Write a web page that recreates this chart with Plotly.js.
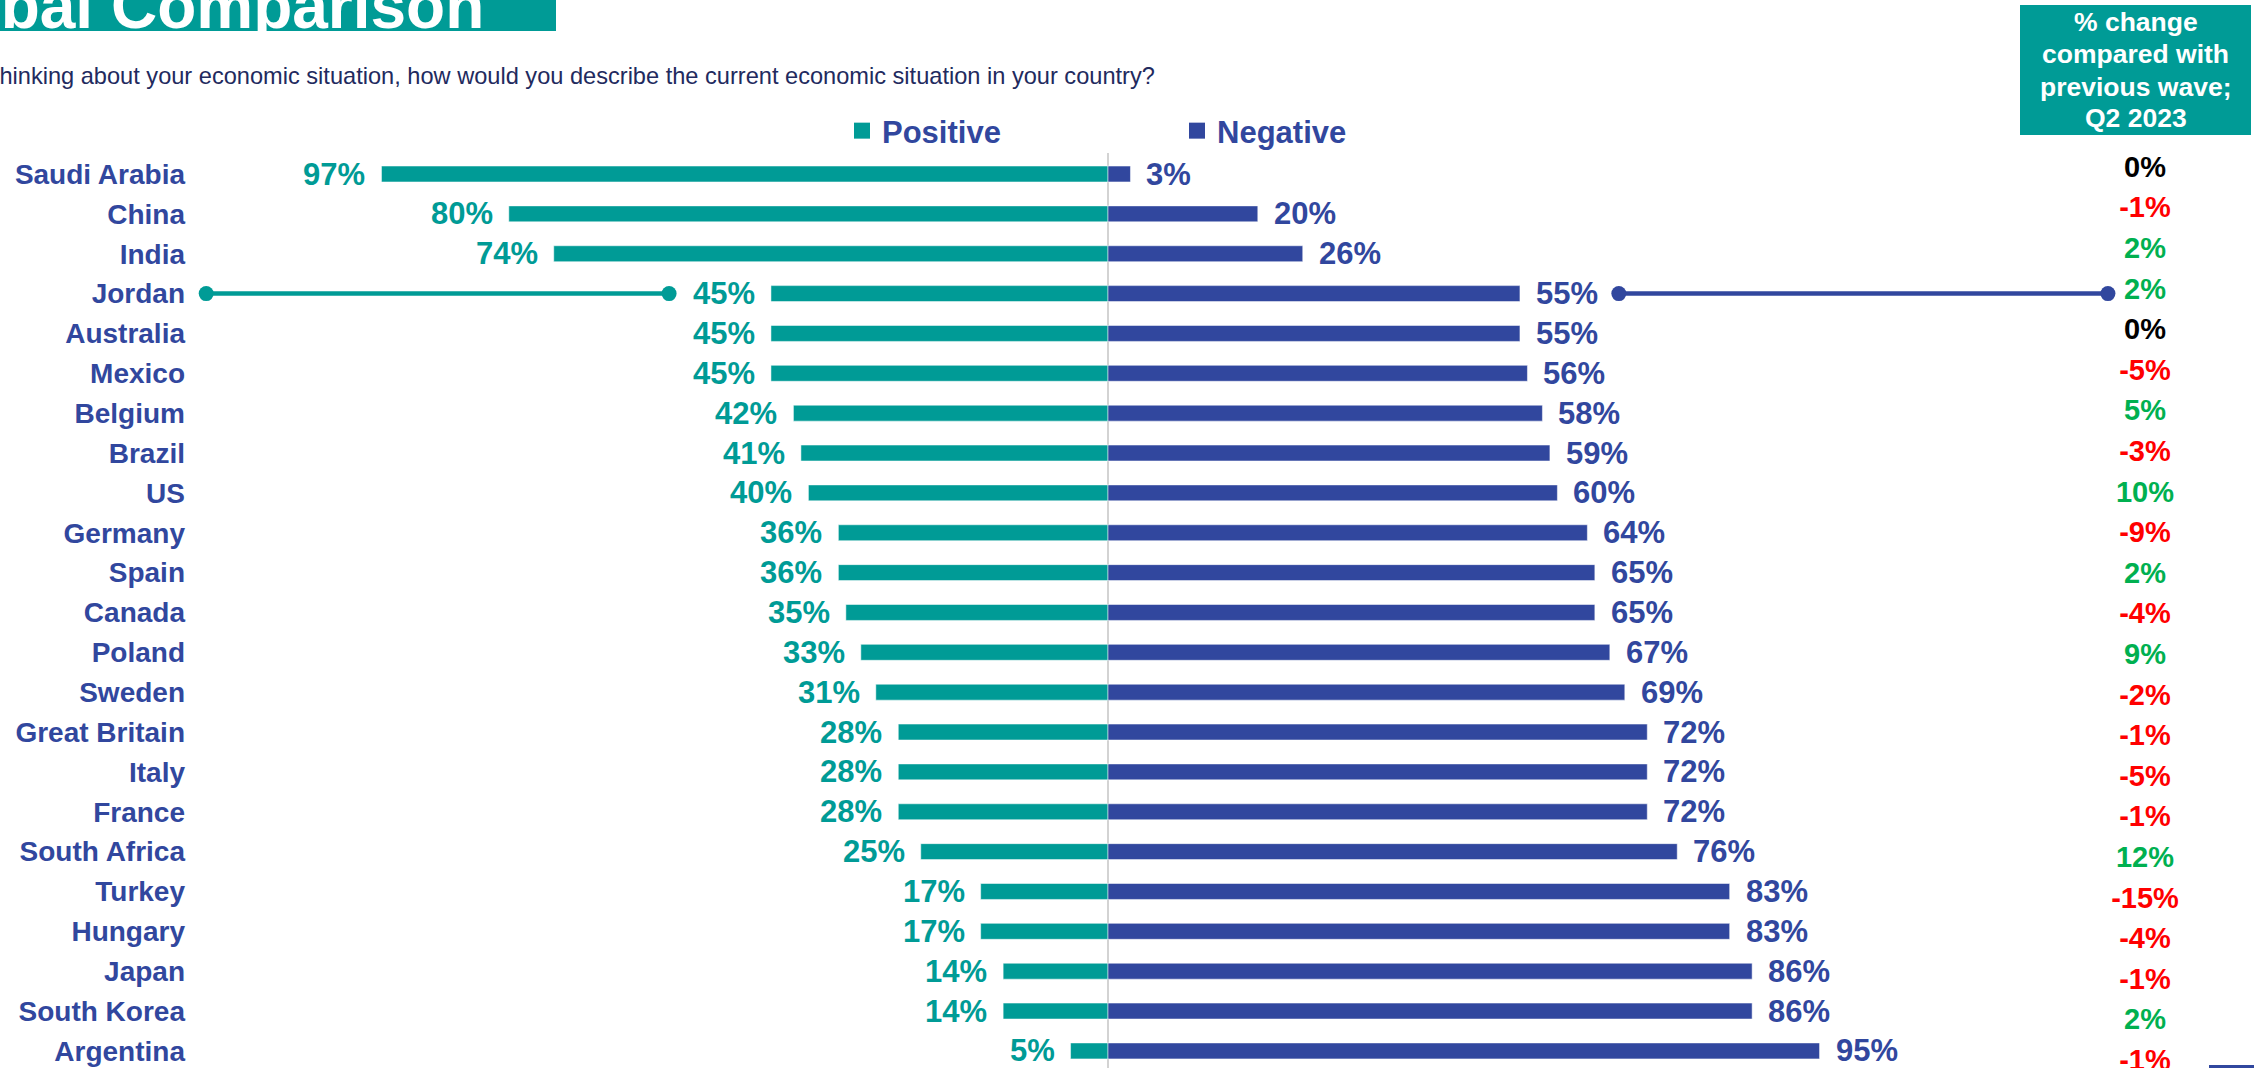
<!DOCTYPE html>
<html><head><meta charset="utf-8">
<script src="https://cdn.plot.ly/plotly-3.0.1.min.js"></script>
<style>html,body{margin:0;padding:0;background:#fff;overflow:hidden}#chart{width:2254px;height:1068px}</style>
</head><body><div id="chart"></div>
<script>
// ---------- DATA ----------
const countries = ["Saudi Arabia","China","India","Jordan","Australia","Mexico","Belgium","Brazil","US","Germany","Spain","Canada","Poland","Sweden","Great Britain","Italy","France","South Africa","Turkey","Hungary","Japan","South Korea","Argentina"];
const positive = [97,80,74,45,45,45,42,41,40,36,36,35,33,31,28,28,28,25,17,17,14,14,5];
const negative = [3,20,26,55,55,56,58,59,60,64,65,65,67,69,72,72,72,76,83,83,86,86,95];
const changeVsPrev = [0,-1,2,2,0,-5,5,-3,10,-9,2,-4,9,-2,-1,-5,-1,12,-15,-4,-1,2,-1];
const seriesNames = ["Positive","Negative"];
const highlightCountry = "Jordan";
const highlightPosLink = [-120.4,-58.6];
const highlightNegLink = [68.2,133.5];
const titleText = "Global Comparison";
const subtitleText = "Thinking about your economic situation, how would you describe the current economic situation in your country?";
const boxLines = ["% change","compared with","previous wave;","Q2 2023"];

// ---------- STYLE / LAYOUT ----------
const W = 2254, H = 1068, L = 190;
const ZERO = 1108, KX = 7.49;
const TEAL = "#009B96", NAVY = "#31479E", GREEN = "#00B050", RED = "#FF0000";
const FONT = "Liberation Sans, Arial, sans-serif";
const px = p => (p - L) / (W - L);
const py = p => 1 - p / H;
const xRange = [(L - ZERO) / KX, (W - ZERO) / KX];
const rowTop = 174, rowStep = 39.86;
const chgTop = 169.5, chgStep = 40.6;
const yRange = [(H - rowTop) / rowStep, -rowTop / rowStep];
const y2Range = [(H - chgTop) / chgStep, -chgTop / chgStep];
const changeX = (2145 - ZERO) / KX;

const traces = [
  // legend keys (square swatches)
  {type:"scatter", mode:"markers", name:seriesNames[0], x:[null], y:[null],
   marker:{symbol:"square", size:16, color:TEAL}, hoverinfo:"skip"},
  {type:"scatter", mode:"markers", name:seriesNames[1], x:[null], y:[null],
   marker:{symbol:"square", size:16, color:NAVY}, hoverinfo:"skip"},
  {type:"bar", orientation:"h", name:seriesNames[0], showlegend:false, y:countries, x:positive.map(v=>-v),
   marker:{color:TEAL, line:{color:"rgba(255,255,255,0.5)", width:1}}, hoverinfo:"skip"},
  {type:"bar", orientation:"h", name:seriesNames[1], showlegend:false, y:countries, x:negative,
   marker:{color:NAVY, line:{color:"rgba(255,255,255,0.5)", width:1}}, hoverinfo:"skip"},
  {type:"scatter", mode:"lines+markers", showlegend:false, cliponaxis:false,
   x:highlightPosLink, y:[highlightCountry, highlightCountry],
   line:{color:TEAL, width:4.5}, marker:{color:TEAL, size:15}, hoverinfo:"skip"},
  {type:"scatter", mode:"lines+markers", showlegend:false, cliponaxis:false,
   x:highlightNegLink, y:[highlightCountry, highlightCountry],
   line:{color:NAVY, width:4.5}, marker:{color:NAVY, size:15}, hoverinfo:"skip"},
  {type:"scatter", mode:"text", showlegend:false, cliponaxis:false, yaxis:"y2",
   x:countries.map(()=>changeX), y:countries,
   text:changeVsPrev.map(v=>v+"%"), textposition:"middle center",
   textfont:{family:FONT, size:29, weight:"bold", color:changeVsPrev.map(v=> v>0?GREEN:(v<0?RED:"#000000"))},
   hoverinfo:"skip"}
];

const annotations = [];
countries.forEach((c,i)=>{
  annotations.push({x:-positive[i], y:c, xref:"x", yref:"y", text:positive[i]+"%", showarrow:false,
    xanchor:"right", yanchor:"middle", xshift:-14, font:{family:FONT, size:31, weight:"bold", color:TEAL}});
  annotations.push({x:negative[i], y:c, xref:"x", yref:"y", text:negative[i]+"%", showarrow:false,
    xanchor:"left", yanchor:"middle", xshift:14, font:{family:FONT, size:31, weight:"bold", color:NAVY}});
});
annotations.push({xref:"paper", yref:"paper", x:px(-108), y:py(6), xanchor:"left", yanchor:"middle",
  text:titleText, showarrow:false, font:{family:FONT, size:64, weight:"bold", color:"#ffffff"}});
annotations.push({xref:"paper", yref:"paper", x:px(-17), y:py(76), xanchor:"left", yanchor:"middle",
  text:subtitleText, showarrow:false, font:{family:FONT, size:23.6, color:"#222a5e"}});
const boxY = [22,54,87,118];
boxLines.forEach((t,i)=>annotations.push({xref:"paper", yref:"paper", x:px(2135.5), y:py(boxY[i]),
  xanchor:"center", yanchor:"middle", text:t, showarrow:false,
  font:{family:FONT, size:26.5, weight:"bold", color:"#ffffff"}}));

const shapes = [
  {type:"line", xref:"x", yref:"paper", x0:0, x1:0, y0:0, y1:py(153), line:{color:"#c4c4c4", width:1.5}, layer:"below"},
  {type:"rect", xref:"paper", yref:"paper", x0:px(0), x1:px(556), y0:py(31), y1:py(0), fillcolor:TEAL, line:{width:0}, layer:"below"},
  {type:"rect", xref:"paper", yref:"paper", x0:px(2020), x1:px(2251), y0:py(135), y1:py(5), fillcolor:TEAL, line:{width:0}, layer:"below"},
  {type:"rect", xref:"paper", yref:"paper", x0:px(2209), x1:px(2260), y0:py(1075), y1:py(1065), fillcolor:NAVY, line:{width:0}}
];

const layout = {
  width:W, height:H, margin:{l:L, r:0, t:0, b:0, pad:0},
  paper_bgcolor:"#ffffff", plot_bgcolor:"rgba(0,0,0,0)",
  barmode:"relative", bargap:0.6,
  font:{family:FONT},
  xaxis:{range:xRange, visible:false, fixedrange:true},
  yaxis:{type:"category", categoryarray:countries, categoryorder:"array", range:yRange,
    ticks:"", showgrid:false, zeroline:false, showline:false, ticklabelstandoff:4,
    tickfont:{family:FONT, size:28, weight:"bold", color:NAVY}, fixedrange:true},
  yaxis2:{type:"category", categoryarray:countries, categoryorder:"array", range:y2Range,
    overlaying:"y", visible:false, fixedrange:true},
  showlegend:true,
  legend:{orientation:"h", x:px(842), y:py(131), xanchor:"left", yanchor:"middle",
    entrywidth:290, entrywidthmode:"pixels", traceorder:"normal", itemsizing:"trace", bgcolor:"rgba(0,0,0,0)",
    font:{family:FONT, size:31, weight:"bold", color:NAVY}},
  annotations, shapes
};

Plotly.newPlot("chart", traces, layout, {displayModeBar:false, staticPlot:true});
</script></body></html>
